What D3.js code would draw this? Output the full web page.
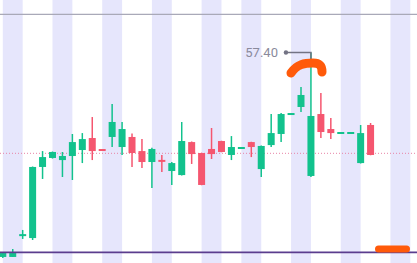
<!DOCTYPE html>
<html>
<head>
<meta charset="utf-8">
<script src="https://cdn.jsdelivr.net/npm/d3@7"></script>
<style>
  html, body { margin: 0; padding: 0; background: #fff; }
  svg { display: block; }
</style>
</head>
<body>
<div id="chart"></div>
<script>
// chart size
let width = 417,
    height = 263

// candle data, one entry per session
var opens  = [43.77, 43.77, 45.20, 45.03, 49.77, 50.37, 50.23, 50.50, 50.90, 51.70,
              50.93, 51.77, 51.10, 51.77, 50.83, 50.10, 50.20, 49.50, 49.23, 51.43,
              50.70, 50.97, 51.50, 50.57, 51.02, 51.43, 49.63, 51.23, 51.97, 53.28,
              53.77, 49.17, 53.30, 52.30, 52.02, 52.02, 50.03, 52.57]
var highs  = [44.05, 44.30, 45.57, 49.80, 50.83, 50.80, 50.77, 51.97, 52.03, 53.10,
              50.95, 53.97, 52.77, 52.00, 51.63, 51.05, 50.57, 50.10, 52.77, 51.47,
              50.72, 52.37, 51.52, 51.83, 51.06, 51.45, 51.20, 53.30, 53.37, 53.33,
              55.10, 57.40, 54.70, 53.03, 52.06, 52.06, 52.57, 52.70]
var lows   = [43.70, 43.77, 44.97, 44.90, 48.97, 50.33, 49.10, 48.90, 50.03, 50.23,
              50.85, 51.10, 50.57, 49.77, 49.70, 48.37, 49.43, 48.57, 49.20, 49.97,
              48.55, 50.30, 50.75, 50.23, 51.01, 50.43, 49.10, 51.10, 51.43, 53.27,
              53.43, 49.10, 51.70, 51.63, 52.01, 52.01, 50.00, 50.55]
var closes = [44.03, 44.03, 45.25, 49.77, 50.43, 50.77, 50.50, 51.43, 51.63, 50.83,
              50.87, 52.77, 52.30, 50.70, 50.10, 50.97, 50.15, 50.03, 51.50, 50.63,
              48.57, 50.63, 50.77, 51.10, 51.05, 51.10, 51.17, 52.03, 53.30, 53.32,
              54.57, 53.17, 52.10, 52.03, 52.05, 52.05, 52.03, 50.57]

// shaded periods: index of the first candle, each covers two candle steps
var bandStarts = [0, 5, 10, 15, 20, 24, 29, 34, 39]

// horizontal reference levels
var topLevel = 59.95
var midLevel = 50.68
var lowLevel = 44.08

// annotated high
var peakIndex = 31
var peakLabel = "57.40"

var data = opens.map(function(o, i) {
  return {i: i, open: o, high: highs[i], low: lows[i], close: closes[i]}
})

var svg = d3.select("#chart")
  .append("svg")
    .attr("width", width)
    .attr("height", height)

var x = d3.scaleLinear()
  .domain([0, 1])
  .range([2.8, 12.74])

var y = d3.scaleLinear()
  .domain([lowLevel, topLevel])
  .range([252.3, 14.3])

var up = "#12c28d",
    down = "#f5566f"

// lavender bands
svg.append("g")
  .selectAll("rect")
  .data(bandStarts)
  .enter()
  .append("rect")
    .attr("x", function(d) { return x(d) })
    .attr("y", 0)
    .attr("width", function(d) { return x(d + 2) - x(d) })
    .attr("height", height)
    .attr("fill", "#e6e6fc")

// top line
svg.append("line")
  .attr("x1", 0).attr("x2", width)
  .attr("y1", y(topLevel)).attr("y2", y(topLevel))
  .attr("stroke", "#a9a9b8")
  .attr("stroke-width", 1.2)

// dotted mid line
svg.append("line")
  .attr("x1", 0).attr("x2", width)
  .attr("y1", y(midLevel)).attr("y2", y(midLevel))
  .attr("stroke", "#e884a6")
  .attr("stroke-width", 1)
  .attr("stroke-dasharray", "1,2")

// candles
var candle = svg.append("g")
  .selectAll("g")
  .data(data)
  .enter()
  .append("g")

candle.append("line")
  .attr("x1", function(d) { return x(d.i) })
  .attr("x2", function(d) { return x(d.i) })
  .attr("y1", function(d) { return y(d.high) })
  .attr("y2", function(d) { return y(d.low) })
  .attr("stroke", function(d) { return d.close >= d.open ? up : down })
  .attr("stroke-width", 1.5)

candle.append("rect")
  .attr("x", function(d) { return x(d.i) - 3.5 })
  .attr("width", 7)
  .attr("y", function(d) {
    var top = y(Math.max(d.open, d.close)), bot = y(Math.min(d.open, d.close))
    return bot - top < 2 ? (top + bot) / 2 - 1 : top
  })
  .attr("height", function(d) {
    return Math.max(2, Math.abs(y(d.open) - y(d.close)))
  })
  .attr("fill", function(d) { return d.close >= d.open ? up : down })

// bottom line
svg.append("line")
  .attr("x1", 0).attr("x2", width)
  .attr("y1", y(lowLevel)).attr("y2", y(lowLevel))
  .attr("stroke", "#5b3d8e")
  .attr("stroke-width", 1.8)

// high annotation
var px = x(peakIndex), py = y(highs[peakIndex])
svg.append("path")
  .attr("d", "M" + (px - 25) + "," + py + "H" + px + "V" + (py + 10))
  .attr("fill", "none")
  .attr("stroke", "#737384")
  .attr("stroke-width", 1.5)
svg.append("circle")
  .attr("cx", px - 25).attr("cy", py)
  .attr("r", 2.2)
  .attr("fill", "#737384")
svg.append("text")
  .attr("x", px - 33)
  .attr("y", py)
  .attr("dy", "0.35em")
  .attr("text-anchor", "end")
  .attr("font-family", "Roboto, sans-serif")
  .attr("font-size", 13)
  .attr("fill", "#8a8a9c")
  .text(peakLabel)

// orange hand-drawn marks
svg.append("path")
  .attr("d", "M291,73 C297,64 305,63 313,63 C320,63 322,66 322,72")
  .attr("fill", "none")
  .attr("stroke", "#ff5a0a")
  .attr("stroke-width", 9)
  .attr("stroke-linecap", "round")
svg.append("rect")
  .attr("x", 375).attr("y", 245.5)
  .attr("width", 35).attr("height", 7)
  .attr("rx", 3.5)
  .attr("fill", "#ff5a0a")
</script>
</body>
</html>
